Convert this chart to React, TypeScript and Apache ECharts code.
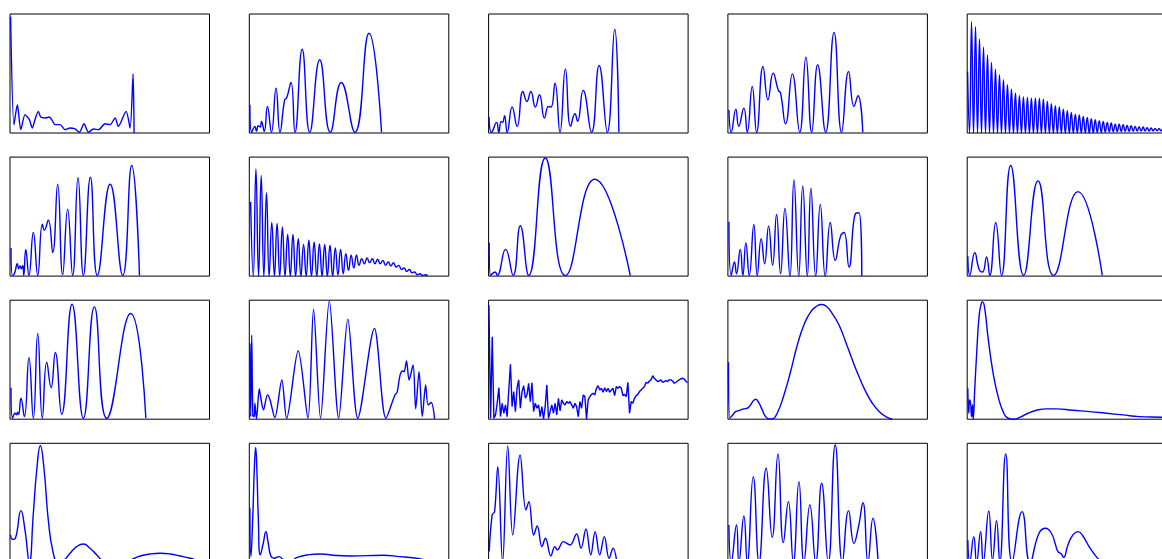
import React, { useEffect, useRef } from "react";
import * as echarts from "echarts";

// Each panel: [x, y] readings in percent of the panel's extent
const panel01: number[][] = [[0.3,97.8],[2.0,7.0],[3.7,23.7],[5.4,2.8],[7.5,15.4],[8.4,14.0],[9.7,11.2],[11.2,4.2],[12.5,11.2],[14.2,18.2],[15.4,13.4],[17.6,12.6],[19.7,13.4],[20.9,11.2],[22.6,7.0],[25.1,7.0],[27.6,2.8],[30.1,4.2],[32.6,3.4],[34.8,0.6],[37.1,7.8],[39.3,0.6],[41.8,3.4],[44.3,2.8],[47.7,7.8],[50.2,7.0],[52.7,12.6],[54.3,5.6],[58.2,18.2],[60.2,4.2],[61.7,49.7],[62.2,0]];
const panel02: number[][] = [[0.3,23.7],[1.2,0.6],[2.8,5.6],[3.6,1.4],[4.5,6.1],[5.5,5.0],[6.1,9.8],[7.5,1.4],[9.1,22.3],[11.1,0.6],[13.4,37.7],[15.4,0.6],[17.7,27.9],[18.7,29.3],[20.9,42.5],[22.9,0.6],[26.5,70.4],[30.3,0.6],[35.3,61.5],[40.6,0.6],[46.1,42.5],[52.9,0.6],[60.0,83.8],[66.3,0.6]];
const panel03: number[][] = [[0.2,13.4],[1.5,0.6],[4.0,8.9],[5.1,0.6],[6.3,9.8],[7.0,8.9],[8.0,14.5],[9.3,0.6],[11.8,21.8],[14.3,5.6],[17.2,34.9],[19.2,26.5],[21.2,34.9],[23.4,21.8],[25.5,32.1],[28.0,12.6],[30.0,22.3],[31.3,21.8],[33.3,41.9],[35.8,0.6],[38.5,53.9],[41.1,5.6],[43.3,16.2],[44.6,9.8],[47.4,35.8],[51.6,0.6],[55.4,56.7],[59.5,0.6],[63.2,87.2],[65.3,0.6]];
const panel04: number[][] = [[0.5,19.6],[1.7,0.6],[4.0,20.1],[5.4,5.6],[8.0,20.9],[9.7,0.6],[12.2,39.1],[14.4,0.6],[17.6,55.9],[20.1,27.9],[22.7,50.3],[25.3,35.8],[26.4,33.5],[28.9,7.8],[32.3,49.7],[36.0,0.6],[39.1,63.7],[42.0,0.6],[45.0,57.3],[49.0,0.6],[53.2,84.6],[57.0,0.6],[60.5,51.7],[63.2,22.3],[65.2,31.3],[67.6,0.6]];
// Panel 5: dense ripple, peaks and troughs in sample order
const panel05Start = 51.7;
const panel05Peaks = [93.6,89.4,79.1,72.1,65.6,59.2,53.6,48.9,44.7,40.5,36.9,33.5,31.3,30.2,29.9,29.3,29.3,29.1,28.5,26.5,24.6,22.9,21.8,20.1,18.7,17.3,15.9,15.1,14.0,13.1,12.0,11.2,10.3,9.8,8.9,8.4,7.5,7.5,7.0,6.4,6.1,5.6,5.3,5.0,4.5,4.2,3.9,3.6,3.4];
const panel05Troughs = [0,0,0,0,0,0,0,0,0,0,0,0,0,0,0,0,0,0,0,0,0,0,0,0,0,0,0,0,0,0,0,0.2,0.4,0.6,0.8,1.0,1.1,1.2,1.3,1.4,1.5,1.5,1.6,1.6,1.7,1.7,1.8,1.8,1.8];
const panel05End = 1.8;
const panel06: number[][] = [[0.5,23.7],[1.3,0.6],[2.2,2.0],[3.7,10.4],[4.3,6.2],[5.0,8.5],[5.7,6.2],[6.4,9.0],[6.9,0.6],[7.9,22.5],[9.5,0.6],[11.7,36.6],[13.9,0.6],[16.2,43.7],[17.2,38.6],[19.2,47.0],[21.4,19.7],[23.9,77.2],[26.4,1.1],[28.9,56.3],[31.4,0.6],[34.1,82.8],[36.8,0.6],[40.3,83.1],[43.8,0.6],[50.2,77.2],[56.5,0.6],[61.0,93.0],[64.9,0.6]];
// Panel 7: dense ripple
const panel07Start = 62.5;
const panel07Peaks = [90.1,84.5,70.1,45.1,44.2,41.4,34.9,34.9,31.5,26.5,30.1,28.7,27.0,26.5,25.9,23.7,22.5,18.9,17.5,17.5,14.6,15.2,14.6,14.1,13.2,11.8,11.3,9.0,6.8,5.6,3.4,2.0,1.1];
const panel07Troughs = [0,0,0,0,0,0,0,0,0,0,0,0,0,0,0,0,1.0,2.0,4.8,6.8,9.0,10.4,11.3,10.4,10.4,9.0,8.5,7.6,5.6,3.9,2.8,1.1,0.6];
const panel07End = 0.3;
const panel08: number[][] = [[0.3,28.2],[1.0,0.6],[3.3,3.4],[4.3,0.6],[8.5,22.5],[12.3,0.6],[15.9,42.3],[20.1,0.6],[28.4,99.2],[38.5,0.4],[53.2,81.4],[71.0,0.4]];
const panel09: number[][] = [[0.5,45.6],[1.7,0.6],[3.3,11.8],[4.3,2.0],[6.2,22.5],[7.5,0.6],[9.0,27.9],[10.7,0.6],[13.0,43.4],[14.7,0.6],[16.7,31.5],[18.4,10.4],[20.4,42.0],[22.4,9.0],[24.4,51.8],[26.4,2.0],[28.6,56.9],[31.1,0],[33.1,80.8],[35.5,0],[37.5,75.8],[39.8,0],[41.6,73.8],[44.0,0],[46.3,60.3],[48.8,0],[51.3,45.1],[53.8,13.2],[56.5,33.8],[58.2,36.6],[60.7,7.6],[64.0,52.7],[65.7,53.2],[67.1,0]];
const panel10: number[][] = [[0.3,16.9],[1.3,0.6],[3.8,19.7],[6.0,5.6],[7.7,3.4],[9.7,16.1],[11.3,0.6],[14.3,45.1],[17.2,0.6],[21.8,93.0],[28.3,0.6],[35.5,80.0],[43.3,0.6],[55.5,71.0],[67.7,0.6]];
const panel11: number[][] = [[0.5,26.5],[1.3,0.8],[2.5,5.0],[3.3,3.6],[3.8,5.9],[4.3,4.2],[5.5,17.6],[7.2,2.2],[9.5,51.7],[11.7,0.8],[13.9,72.1],[16.2,0.8],[18.4,47.8],[20.6,26.5],[22.7,56.1],[25.9,4.2],[31.1,96.6],[36.8,0.8],[42.3,94.4],[48.5,0.8],[60.5,88.8],[68.1,0.8]];
const panel12: number[][] = [[0.3,63.7],[0.7,2],[1.2,70.7],[1.8,3],[2.5,2.2],[2.8,13.4],[3.6,0.3],[5.0,25.4],[5.8,17.6],[7.1,7.8],[9.1,20.4],[10.4,16.2],[12.8,1.4],[16.3,33.0],[18.7,0.8],[24.5,57.5],[29.4,0.8],[32.2,92.5],[35.7,0.8],[40.1,99.4],[44.8,0.8],[49.4,84.1],[54.4,0.8],[62.7,76.3],[68.5,0.8],[73.0,20.4],[74.1,22.6],[75.5,36.6],[76.8,40.5],[77.6,39.9],[78.8,48.9],[80.1,33.0],[82.1,45.5],[83.4,8.7],[85.1,39.9],[86.7,2.2],[88.4,28.8],[89.6,12.0],[91.2,14.0],[92.9,0.3]];
// Panel 13: noisy trace sampled at even steps
const panel13: number[] = [95.8,0.8,69.3,0.8,3.6,13.4,26.5,2.2,13.4,5.0,12.0,2.2,24.6,46.1,10.6,23.2,6.4,26.0,33.0,9.2,23.2,28.2,17.6,20.4,30.2,14.8,30.7,6.4,13.4,9.2,12.0,2.2,10.6,0.3,10.6,28.8,0.8,6.4,12.0,5.0,13.4,3.6,17.6,7.0,16.2,13.4,12.0,14.8,13.4,14.8,12.0,9.2,13.4,10.6,2.2,14.8,9.2,20.4,19.0,0.3,16.2,19.0,20.9,21.8,20.4,26.0,28.2,24.6,26.0,22.6,26.5,23.2,26.0,22.6,24.6,26.0,19.8,27.4,26.0,27.4,26.0,19.8,20.9,19.0,31.0,5.0,14.8,13.4,17.6,19.8,20.9,23.2,24.6,26.0,27.4,31.0,30.2,32.1,33.0,36.6,34.4,33.0,31.6,32.1,33.0,31.0,31.6,32.4,31.6,33.2,33.0,32.1,30.2,31.0,32.1,33.0,33.8,34.4,33.8,32.1,30.7];
const panel14: number[][] = [[0.3,47.8],[1.0,0.8],[2.7,4.2],[3.8,6.4],[5.0,7.0],[6.4,7.8],[8.0,8.7],[9.7,9.2],[11.4,12.0],[12.7,15.4],[13.9,16.8],[15.2,14.8],[17.2,7.8],[18.9,2.2],[20.6,0.3],[22.2,0.3],[24.7,5.0],[28.1,20.4],[31.4,39.9],[34.8,62.3],[38.1,79.1],[41.5,90.2],[44.8,95.3],[46.8,96.4],[49.0,95.3],[52.3,88.8],[55.7,79.1],[59.0,65.1],[62.4,49.7],[65.7,35.8],[69.1,23.2],[72.4,13.4],[75.8,6.4],[79.1,2.2],[82.4,0]];
const panel15: number[][] = [[0.3,26.0],[0.8,5.0],[1.2,16.2],[1.7,13.4],[2.2,2.2],[2.7,12.0],[3.0,0],[3.8,25.7],[4.7,53.9],[6.0,87.4],[7.2,98.0],[7.7,98.6],[8.8,93.0],[10.5,67.9],[13.0,38.5],[15.5,19.0],[18.0,6.4],[20.5,0.8],[23.4,0],[27.2,2.2],[30.5,5.0],[34.7,7.5],[39.7,8.7],[44.7,8.7],[53.0,7.5],[61.3,6.4],[69.7,5.0],[78.0,3.6],[86.3,2.2],[97.3,1.7],[100,1.4]];
const panel16: number[][] = [[0.2,23.0],[1.3,19.3],[2.7,20.2],[5.5,43.4],[7.5,27.2],[9.7,0],[11.7,41.2],[13.4,77.6],[15.2,98.0],[17.1,77.6],[19.2,35.6],[21.7,7.6],[24.2,0],[26.8,1.4],[30.1,7.6],[33.4,13.2],[36.8,15.4],[40.1,11.8],[43.5,6.2],[46.8,1.4],[53.0,0],[60.2,2.0],[65.2,5.3],[70.2,7.0],[75.3,7.6],[80.3,7.0],[85.3,5.3],[90.3,3.4],[95.3,1.1],[100,0]];
const panel17: number[][] = [[0.3,45.4],[0.8,4.8],[1.8,41.2],[2.5,77.6],[3.2,96.6],[3.8,77.6],[4.5,38.4],[5.5,6.2],[7.0,16.0],[8.3,25.8],[9.5,16.0],[10.8,5.3],[12.4,3.4],[14.9,4.8],[17.4,2.0],[20.7,1.4],[24.0,4.2],[29.0,6.2],[35.7,7.0],[42.3,5.9],[50.6,5.3],[58.9,5.6],[67.2,5.9],[75.5,4.8],[83.7,3.4],[88.7,2.0],[95.4,1.1],[100,0.6]];
const panel18: number[][] = [[0.3,9.0],[1.8,40.0],[3.0,42.5],[4.6,80.4],[7.0,0],[9.6,97.8],[12.1,23.0],[15.8,90.2],[18.7,44.0],[20.2,51.0],[22.6,23.0],[24.4,30.5],[26.7,13.2],[28.5,20.2],[31.2,5.3],[33.2,13.2],[34.5,10.4],[37.5,17.4],[40.8,14.6],[44.1,23.8],[46.3,11.8],[48.8,28.0],[51.2,6.2],[53.4,25.8],[55.7,6.2],[58.0,21.6],[60.4,3.4],[62.4,11.8],[64.3,0]];
const panel19: number[][] = [[0.5,31.4],[1.7,0],[4.3,31.4],[5.5,0],[8.0,38.9],[9.7,0],[12.7,72.0],[15.6,0],[19.2,79.0],[22.2,21.0],[25.1,91.0],[27.8,16.5],[30.3,51.0],[32.8,0],[35.6,67.8],[38.1,0],[41.1,48.2],[44.0,0],[47.0,66.4],[50.3,0],[53.8,98.6],[57.4,0],[60.5,43.4],[63.2,16.0],[65.4,29.4],[67.7,50.1],[70.2,0],[72.7,37.0],[75.3,0]];
const panel20: number[][] = [[0.3,18.8],[1.3,0.6],[3.3,21.6],[4.7,0],[6.7,25.8],[8.0,0],[10.8,43.1],[12.7,2.0],[14.7,35.0],[16.3,0],[19.3,91.0],[22.5,0],[27.5,42.6],[31.5,0],[36.0,24.4],[39.3,28.6],[42.2,24.4],[44.3,14.6],[45.5,9.0],[47.2,7.0],[48.3,4.2],[50.5,14.6],[53.0,23.0],[55.5,25.8],[58.0,22.1],[61.3,12.6],[64.7,4.8],[67.2,0.6]];

function interleave(start: number, troughs: number[], peaks: number[], end: number): number[][] {
  const ys: number[] = [start];
  for (let k = 0; k < peaks.length; k++) {
    ys.push(troughs[k], peaks[k]);
  }
  ys.push(end);
  return ys.map((y, i) => [i, y]);
}

type Panel = { data: number[][]; xMin: number; xMax: number; smooth: number | boolean };

const pct = (data: number[][], smooth: number | boolean = 0.5): Panel => ({ data, xMin: 0, xMax: 100, smooth });

const panels: Panel[] = [
  pct(panel01, 0.25),
  pct(panel02),
  pct(panel03),
  pct(panel04),
  { data: interleave(panel05Start, panel05Troughs, panel05Peaks, panel05End), xMin: -0.17, xMax: 99.8, smooth: 0.5 },
  pct(panel06),
  { data: interleave(panel07Start, panel07Troughs, panel07Peaks, panel07End), xMin: -0.5, xMax: 74.9, smooth: 0.5 },
  pct(panel08),
  pct(panel09),
  pct(panel10),
  pct(panel11),
  pct(panel12, 0.3),
  { data: panel13.map((y, i) => [i, y]), xMin: -0.2, xMax: 120.4, smooth: false },
  pct(panel14),
  pct(panel15),
  pct(panel16),
  pct(panel17),
  pct(panel18, 0.4),
  pct(panel19),
  pct(panel20),
];

export default function App() {
  const ref = useRef<HTMLDivElement>(null);
  useEffect(() => {
    if (!ref.current) return;
    const chart = echarts.init(ref.current, undefined, { renderer: "svg" });
    const grids: any[] = [];
    const xAxes: any[] = [];
    const yAxes: any[] = [];
    const series: any[] = [];
    panels.forEach((p, i) => {
      const r = Math.floor(i / 5);
      const c = i % 5;
      grids.push({
        left: 10 + 239.3 * c,
        top: 14 + 143.1 * r,
        width: 199.5,
        height: 119,
        outerBoundsMode: "none",
        containLabel: false,
        show: true,
        z: 3,
        backgroundColor: "transparent",
        borderColor: "#000",
        borderWidth: 1,
      });
      xAxes.push({ type: "value", gridIndex: i, min: p.xMin, max: p.xMax, show: false });
      yAxes.push({ type: "value", gridIndex: i, min: 0, max: 100, show: false });
      series.push({
        type: "line",
        xAxisIndex: i,
        yAxisIndex: i,
        data: p.data,
        symbol: "none",
        showSymbol: false,
        smooth: p.smooth,
        silent: true,
        lineStyle: { color: "#0000ff", width: 1.4 },
      });
    });
    chart.setOption({
      animation: false,
      backgroundColor: "#fff",
      grid: grids,
      xAxis: xAxes,
      yAxis: yAxes,
      series,
    });
    return () => chart.dispose();
  }, []);
  return (
    <div
      ref={ref}
      style={{ position: "absolute", left: 0, top: 0, width: 1162, height: 559, background: "#fff" }}
    />
  );
}
